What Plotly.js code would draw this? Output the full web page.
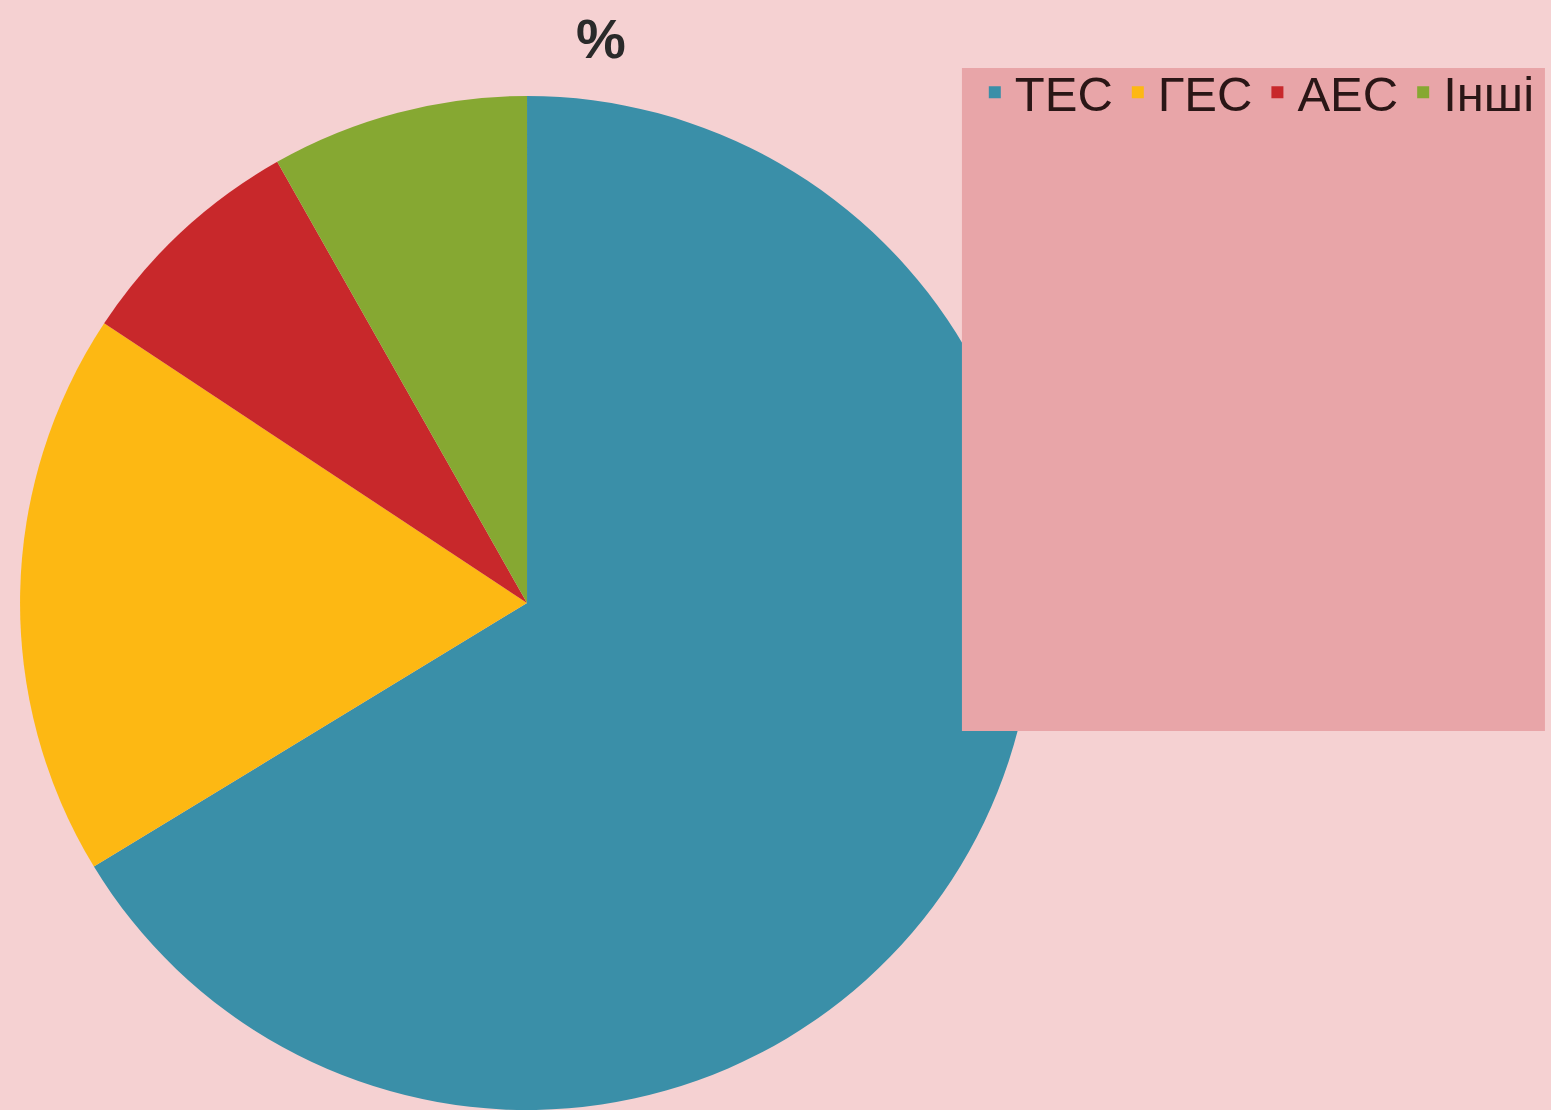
<!DOCTYPE html>
<html>
<head>
<meta charset="utf-8">
<script src="https://cdn.plot.ly/plotly-3.0.1.min.js"></script>
<style>html,body{margin:0;padding:0;background:#F5D1D2;}#chart{width:1551px;height:1110px;}</style>
</head>
<body>
<div id="chart"></div>
<script>
const categories = ["ТЕС", "ГЕС", "АЕС", "Інші"];
const values = [66.3, 18.0, 7.5, 8.2];
const colors = ["#3A8FA8", "#FDB813", "#C8282B", "#86A832"];

const data = [{
  type: "pie",
  labels: categories,
  values: values,
  sort: false,
  direction: "clockwise",
  rotation: 0,
  textinfo: "none",
  hoverinfo: "label+percent",
  marker: {colors: colors, line: {width: 0}},
  domain: {x: [0.0129, 0.6667], y: [0, 0.9135]}
}];

const layout = {
  width: 1551,
  height: 1110,
  margin: {l: 0, r: 0, t: 0, b: 0},
  paper_bgcolor: "#F5D1D2",
  plot_bgcolor: "#F5D1D2",
  title: {text: "<b>%</b>", x: 0.3875, xanchor: "center", y: 0.965, yanchor: "middle",
          font: {family: "Liberation Sans, Arial, sans-serif", size: 56, color: "#2a2a2a"}},
  showlegend: true,
  legend: {
    orientation: "h",
    x: 0.6285, xanchor: "left",
    y: 0.9515, yanchor: "top",
    bgcolor: "rgba(0,0,0,0)",
    font: {family: "Liberation Sans, Arial, sans-serif", size: 49, color: "#2a1616"},
    itemwidth: 30,
    traceorder: "normal"
  },
  shapes: [{
    type: "rect", xref: "paper", yref: "paper", layer: "above",
    x0: 0.6202, x1: 0.9961, y0: 0.3414, y1: 0.9387,
    fillcolor: "#E8A5A8", line: {width: 0}
  }]
};

Plotly.newPlot("chart", data, layout, {displayModeBar: false});
</script>
</body>
</html>
